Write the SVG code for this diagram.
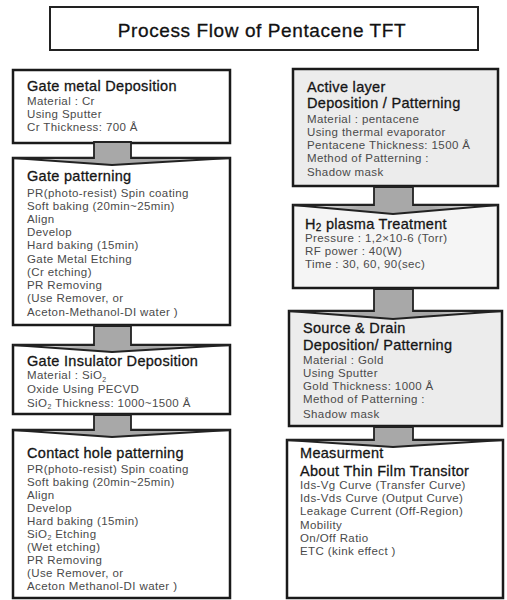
<svg xmlns="http://www.w3.org/2000/svg" width="507" height="600" viewBox="0 0 507 600">
<defs>
<linearGradient id="ag" x1="0" y1="0" x2="1" y2="0">
<stop offset="0" stop-color="#ffffff"/>
<stop offset="0.33" stop-color="#a8a8a8"/>
<stop offset="0.67" stop-color="#a8a8a8"/>
<stop offset="1" stop-color="#ffffff"/>
</linearGradient>
</defs>
<style>
.box{stroke:#1a1a1a;stroke-width:2.5;fill:#ffffff}
.gbox{stroke:#1a1a1a;stroke-width:2.5;fill:#ececec}
.lbox{stroke:#1a1a1a;stroke-width:2.5;fill:#f5f5f5}
.arr{fill:url(#ag);stroke:#222;stroke-width:1.8;stroke-linejoin:miter}
.h{font-family:"Liberation Sans",Arial,sans-serif;font-size:14.5px;letter-spacing:0.3px;fill:#151515;stroke:#151515;stroke-width:0.3}
.b{font-family:"Liberation Sans",Arial,sans-serif;font-size:11.5px;letter-spacing:0.4px;fill:#4a4a4a}
.t{font-family:"Liberation Sans",Arial,sans-serif;font-size:19px;letter-spacing:0.6px;fill:#111;stroke:#111;stroke-width:0.3}
</style>
<g id="title">
<rect x="50" y="7" width="428" height="43" fill="#fff" stroke="#222" stroke-width="2"/>
<text class="t" x="262" y="37" text-anchor="middle">Process Flow of Pentacene TFT</text>
</g>
<g id="gate-metal">
<rect class="box" x="13" y="70" width="217" height="73"/>
<text class="h" x="27" y="91">Gate metal Deposition</text>
<text class="b" x="27" y="105">Material : Cr</text>
<text class="b" x="27" y="118">Using Sputter</text>
<text class="b" x="27" y="131">Cr Thickness: 700 Å</text>
</g>
<g id="gate-patterning">
<rect class="box" x="13" y="158" width="217" height="167"/>
<text class="h" x="27" y="181">Gate patterning</text>
<text class="b" x="27" y="197">PR(photo-resist) Spin coating</text>
<text class="b" x="27" y="210">Soft baking (20min~25min)</text>
<text class="b" x="27" y="223">Align</text>
<text class="b" x="27" y="236">Develop</text>
<text class="b" x="27" y="249">Hard baking (15min)</text>
<text class="b" x="27" y="263">Gate Metal Etching</text>
<text class="b" x="27" y="276">(Cr etching)</text>
<text class="b" x="27" y="289">PR Removing</text>
<text class="b" x="27" y="302">(Use Remover, or</text>
<text class="b" x="27" y="316">Aceton-Methanol-DI water )</text>
</g>
<g id="gate-insulator">
<rect class="box" x="13" y="345" width="217" height="69"/>
<text class="h" x="27" y="366">Gate Insulator Deposition</text>
<text class="b" x="27" y="379">Material : SiO<tspan font-size="7" dy="3">2</tspan></text>
<text class="b" x="27" y="393">Oxide Using  PECVD</text>
<text class="b" x="27" y="407">SiO<tspan font-size="7" dy="2">2</tspan><tspan dy="-2"> Thickness: 1000~1500 Å</tspan></text>
</g>
<g id="contact-hole">
<rect class="box" x="13" y="430" width="217" height="168"/>
<text class="h" x="27" y="458">Contact hole patterning</text>
<text class="b" x="27" y="473">PR(photo-resist) Spin coating</text>
<text class="b" x="27" y="486">Soft baking (20min~25min)</text>
<text class="b" x="27" y="499">Align</text>
<text class="b" x="27" y="512">Develop</text>
<text class="b" x="27" y="525">Hard baking (15min)</text>
<text class="b" x="27" y="538">SiO<tspan font-size="7" dy="2">2</tspan><tspan dy="-2"> Etching</tspan></text>
<text class="b" x="27" y="551">(Wet etching)</text>
<text class="b" x="27" y="564">PR Removing</text>
<text class="b" x="27" y="577">(Use Remover, or</text>
<text class="b" x="27" y="590">Aceton Methanol-DI water )</text>
</g>
<g id="active-layer">
<rect class="gbox" x="293" y="69" width="205" height="117"/>
<text class="h" x="307" y="92">Active layer</text>
<text class="h" x="307" y="108">Deposition / Patterning</text>
<text class="b" x="307" y="123">Material : pentacene</text>
<text class="b" x="307" y="136">Using thermal evaporator</text>
<text class="b" x="307" y="149">Pentacene Thickness: 1500 Å</text>
<text class="b" x="307" y="162">Method of Patterning :</text>
<text class="b" x="307" y="176">Shadow mask</text>
</g>
<g id="h2-plasma">
<rect class="lbox" x="293" y="205" width="205" height="83"/>
<text class="h" x="305" y="229">H<tspan font-size="10" dy="2">2</tspan><tspan dy="-2"> plasma Treatment</tspan></text>
<text class="b" x="305" y="242">Pressure : 1,2×10-6 (Torr)</text>
<text class="b" x="305" y="255">RF power : 40(W)</text>
<text class="b" x="305" y="268">Time : 30, 60, 90(sec)</text>
</g>
<g id="source-drain">
<rect class="gbox" x="289" y="311" width="213" height="115"/>
<text class="h" x="303" y="333">Source &amp; Drain</text>
<text class="h" x="303" y="350">Deposition/ Patterning</text>
<text class="b" x="303" y="364">Material : Gold</text>
<text class="b" x="303" y="377">Using Sputter</text>
<text class="b" x="303" y="390">Gold Thickness: 1000 Å</text>
<text class="b" x="303" y="403">Method of Patterning :</text>
<text class="b" x="303" y="418">Shadow mask</text>
</g>
<g id="measurement">
<rect class="box" x="287" y="440" width="216" height="158"/>
<text class="h" x="300" y="458">Measurment</text>
<text class="h" x="300" y="476">About Thin Film Transitor</text>
<text class="b" x="300" y="489">Ids-Vg Curve (Transfer Curve)</text>
<text class="b" x="300" y="502">Ids-Vds Curve (Output Curve)</text>
<text class="b" x="300" y="515">Leakage Current (Off-Region)</text>
<text class="b" x="300" y="529">Mobility</text>
<text class="b" x="300" y="542">On/Off Ratio</text>
<text class="b" x="300" y="555">ETC (kink effect  )</text>
</g>
<g id="connectors">
<polygon class="arr" points="94,142 131,142 131,158 230,158 112,165 13,158 94,158"/>
<polygon class="arr" points="94,326 131,326 131,345 230,345 112,352 13,345 94,345"/>
<polygon class="arr" points="94,415 131,415 131,430 230,430 112,437 13,430 94,430"/>
<polygon class="arr" points="374,187 413,187 413,205 498,205 393,214 293,205 374,205"/>
<polygon class="arr" points="374,289 413,289 413,311 502,311 393,319 289,311 374,311"/>
<polygon class="arr" points="374,427 413,427 413,440 503,440 393,447 287,440 374,440"/>
</g>
</svg>
